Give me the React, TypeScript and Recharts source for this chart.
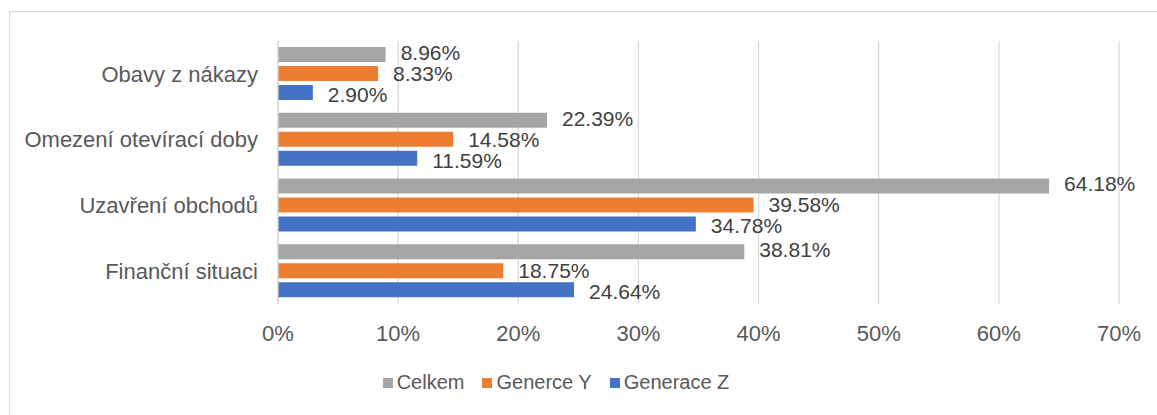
import React from 'react';
import { BarChart, Bar, XAxis, YAxis, CartesianGrid, Legend, LabelList } from 'recharts';

const categories = ['Obavy z nákazy', 'Omezení otevírací doby', 'Uzavření obchodů', 'Finanční situaci'];
const celkem = [8.96, 22.39, 64.18, 38.81];
const genY = [8.33, 14.58, 39.58, 18.75];
const genZ = [2.9, 11.59, 34.78, 24.64];
const xTicks = [0, 10, 20, 30, 40, 50, 60, 70];

const series = [
  { key: 'celkem', name: 'Celkem', color: '#A5A5A5', dy: -2 },
  { key: 'genY', name: 'Generce Y', color: '#ED7D31', dy: 0 },
  { key: 'genZ', name: 'Generace Z', color: '#4472C4', dy: 2 },
];

const data = categories.map((name, i) => ({
  name,
  celkem: celkem[i],
  genY: genY[i],
  genZ: genZ[i],
}));

// no serif font resolves in the sandbox, so use Arial-metric Liberation Sans
const FONT = "'Liberation Sans', Arial, sans-serif";

const renderLegend = () => (
  <div style={{ display: 'flex', justifyContent: 'center', fontFamily: FONT, fontSize: 20, color: '#595959' }}>
    {series.map((s, i) => (
      <div key={s.key} style={{ display: 'flex', alignItems: 'center', marginRight: i < series.length - 1 ? 18 : 0 }}>
        <span style={{ display: 'inline-block', width: 10, height: 10, background: s.color, marginRight: 4 }} />
        <span>{s.name}</span>
      </div>
    ))}
  </div>
);

const App = () => {
  return (
    <div style={{ position: 'absolute', left: 0, top: 0, width: 1157, height: 415, overflow: 'hidden', background: '#fff' }}>
      <div
        style={{
          position: 'absolute',
          left: 9,
          top: 11,
          width: 1170,
          height: 430,
          border: '1px solid #d9d9d9',
          boxSizing: 'border-box',
        }}
      />
      <div style={{ position: 'absolute', left: 0, top: 0, fontFamily: FONT }}>
        <BarChart
          width={1157}
          height={415}
          data={data}
          layout="vertical"
          margin={{ top: 41, right: 38, bottom: 71, left: 0 }}
          barSize={15}
          barGap={4}
        >
          <CartesianGrid horizontal={false} stroke="#d9d9d9" strokeWidth={1.3} />
          <XAxis
            type="number"
            domain={[0, 70]}
            ticks={xTicks}
            tickFormatter={(v) => `${v}%`}
            axisLine={false}
            tickLine={false}
            tickMargin={15}
            height={40}
            tick={{ fontFamily: FONT, fontSize: 22, fill: '#595959' }}
          />
          <YAxis
            type="category"
            dataKey="name"
            width={278}
            axisLine={{ stroke: '#d9d9d9', strokeWidth: 1.3 }}
            tickLine={false}
            tickMargin={14}
            tick={{ fontFamily: FONT, fontSize: 22, fill: '#595959' }}
          />
          <Legend
            content={renderLegend}
            wrapperStyle={{ position: 'absolute', left: 0, top: 371, width: 1112, height: 0, overflow: 'visible' }}
          />
          {series.map((s) => (
            <Bar key={s.key} dataKey={s.key} name={s.name} fill={s.color} isAnimationActive={false}>
              <LabelList
                dataKey={s.key}
                position="right"
                offset={15}
                dy={s.dy}
                formatter={(v: number) => `${v.toFixed(2)}%`}
                fontFamily={FONT}
                fontSize={21}
                fill="#404040"
              />
            </Bar>
          ))}
        </BarChart>
      </div>
    </div>
  );
};

export default App;
